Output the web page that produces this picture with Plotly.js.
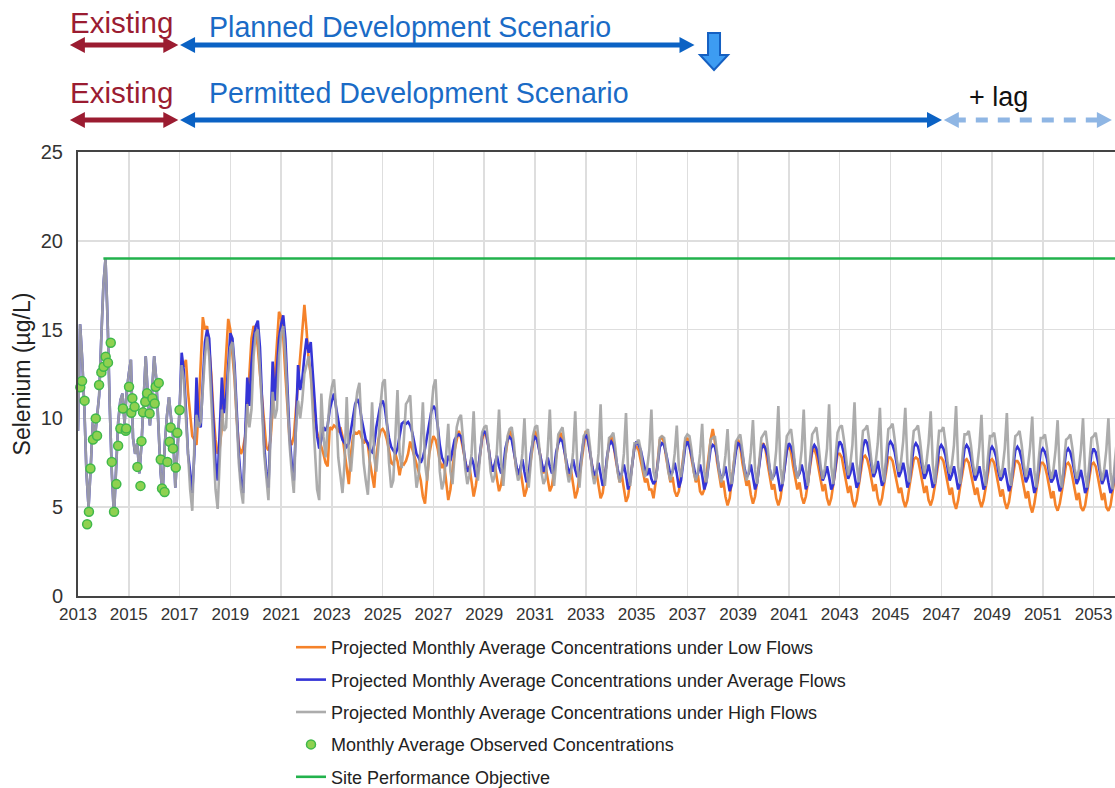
<!DOCTYPE html>
<html><head><meta charset="utf-8">
<script src="https://cdn.plot.ly/plotly-3.0.1.min.js"></script>
<style>html,body{margin:0;padding:0;background:#fff}#chart{width:1115px;height:788px}</style>
</head><body><div id="chart"></div>
<script>
// ---------------- DATA (monthly values, µg/L) ----------------
const historyStartYear = 2013;
// 2013-2016: simulated history, all flow cases coincide
const sharedHistory = [
 9.3,15.3,13.3,10.6,6.9,5.0,7.2,9.8,8.9,10.0,11.3,14.5,
 17.5,19.0,15.5,10.7,6.9,4.5,6.9,9.8,11.0,11.4,9.7,11.5,
 12.5,13.3,8.9,8.0,8.6,6.9,8.5,10.7,13.5,11.3,9.6,11.5,
 13.5,12.2,9.6,7.0,5.7,8.5,10.1,11.2,10.0,8.9,6.1,8.0
];
const projectionStartYear = 2017;
const highFlows = [
 10.5,13.0,12.2,10.0,8.0,6.0,4.8,8.5,10.2,9.5,9.8,12.0,
 13.5,14.6,13.5,11.0,8.0,6.0,4.9,8.0,10.5,9.3,9.5,12.5,
 14.0,14.3,12.5,10.0,7.5,6.0,5.2,8.5,10.8,9.5,10.5,13.5,
 14.8,15.0,13.0,10.5,8.0,6.5,5.4,9.0,11.5,10.0,10.5,13.5,
 14.8,15.2,13.5,11.0,8.5,7.0,5.8,9.5,11.0,10.0,11.0,12.5,
 13.0,13.5,12.5,10.5,8.0,6.0,5.4,11.4,9.0,7.8,9.5,11.0,
 11.8,12.2,10.5,7.8,6.8,5.8,7.5,11.2,8.0,7.0,8.5,10.5,
 11.5,12.0,9.5,7.5,6.5,5.7,8.0,10.9,7.8,7.0,8.5,10.8,
 12.0,12.2,9.8,7.5,6.1,6.5,9.0,11.6,8.0,7.2,8.8,10.8,
 11.0,11.3,9.0,7.5,6.1,6.8,8.5,10.9,7.5,6.5,8.0,10.5,
 11.8,12.2,9.5,7.0,6.0,6.5,8.0,9.7,7.0,6.3,8.0,9.5,
 10.0,10.2,8.8,7.2,6.3,6.8,8.0,10.4,7.5,6.5,7.8,9.2,
 9.5,9.6,8.5,7.0,6.4,6.8,8.2,10.5,7.5,6.2,7.8,9.0,
 9.4,9.5,8.6,7.2,6.5,6.8,8.0,10.0,7.2,6.1,7.5,9.0,
 9.5,9.6,8.4,7.0,6.3,6.6,8.2,10.5,7.4,6.2,7.6,9.1,
 9.3,9.5,8.5,7.1,6.4,6.9,8.1,10.4,7.3,6.1,7.7,9.0,
 9.2,9.4,8.4,7.0,6.3,6.8,8.0,10.8,7.2,6.2,7.6,8.9,
 9.0,9.2,8.3,7.0,6.4,6.9,8.0,10.3,7.0,6.2,7.5,8.6,
 8.6,8.8,8.2,7.2,6.7,7.2,8.2,10.5,7.0,6.5,7.4,8.9,
 9.0,8.9,8.0,7.0,6.5,7.0,8.0,9.6,7.2,6.7,7.6,8.9,
 9.1,9.0,8.2,7.0,6.5,7.0,8.0,9.7,7.0,6.4,7.5,8.8,
 8.9,9.0,8.1,7.0,6.4,6.9,7.9,9.4,7.0,6.3,7.5,8.7,
 8.9,9.1,8.2,7.1,6.5,7.0,8.1,9.9,7.1,6.3,7.6,8.9,
 9.1,9.3,8.3,7.1,6.5,7.0,8.2,10.7,7.2,6.3,7.7,9.0,
 9.2,9.4,8.4,7.2,6.6,7.1,8.2,10.5,7.3,6.2,7.7,9.1,
 9.3,9.5,8.5,7.3,6.6,7.2,8.3,10.8,7.3,6.3,7.8,9.2,
 9.5,9.6,8.8,7.6,6.8,7.4,8.5,10.9,7.5,6.4,7.9,9.3,
 9.4,9.6,8.7,7.6,6.9,7.5,8.6,10.6,7.4,6.4,7.9,9.4,
 9.5,9.7,8.8,7.7,7.0,7.6,8.7,10.6,7.5,6.4,8.0,9.3,
 9.4,9.6,8.7,7.6,6.9,7.5,8.6,10.4,7.4,6.3,7.9,9.3,
 9.3,9.5,8.6,7.5,6.9,7.4,8.5,10.7,7.3,6.3,7.8,9.1,
 9.1,9.3,8.5,7.4,6.8,7.3,8.4,10.2,7.2,6.2,7.7,9.0,
 9.0,9.2,8.4,7.3,6.7,7.2,8.3,10.3,7.1,6.2,7.6,9.0,
 9.1,9.3,8.5,7.4,6.7,7.3,8.4,10.1,7.0,6.1,7.6,8.9,
 8.9,9.1,8.3,7.2,6.6,7.1,8.2,9.9,6.9,6.1,7.5,8.8,
 8.9,9.1,8.3,7.2,6.6,7.1,8.2,10.0,6.9,6.1,7.5,8.9,
 9.0,9.2,8.4,7.2,6.5,7.1,8.2,10.0,6.9,6.0,7.5,8.8
];
const averageFlows = [
 10.5,13.7,12.7,10.5,8.0,7.0,5.8,8.0,12.3,9.7,9.5,12.0,
 14.3,15.0,14.5,12.0,9.5,7.5,6.5,9.0,12.3,10.3,11.2,13.0,
 14.8,14.5,13.0,10.5,8.0,6.5,5.8,9.0,12.3,10.7,13.1,14.5,
 15.2,15.5,14.0,11.0,8.5,7.0,6.1,9.5,13.2,11.0,12.5,14.5,
 15.3,15.8,14.5,12.0,9.0,7.5,6.5,9.5,13.0,11.6,12.2,13.5,
 14.5,13.7,14.3,12.5,10.5,9.0,8.3,8.8,9.5,9.3,9.6,10.5,
 11.0,11.4,10.6,9.8,9.2,8.8,8.6,8.4,8.6,9.4,10.2,10.8,
 11.1,10.8,10.0,9.3,8.8,8.6,8.2,8.1,8.5,9.5,10.2,10.8,
 11.0,10.6,9.7,8.9,8.4,8.2,8.0,8.3,8.9,9.7,9.8,9.7,
 9.8,9.6,9.2,8.5,8.0,7.8,7.5,7.8,8.3,9.0,9.8,10.4,
 10.7,10.5,9.6,8.5,7.8,7.5,7.3,7.9,7.6,8.2,8.8,9.0,
 9.1,9.0,8.5,7.6,7.0,7.2,7.8,7.4,6.7,7.0,8.2,9.0,
 9.3,9.1,8.4,7.5,7.0,7.4,7.9,7.3,6.9,7.2,8.3,8.8,
 8.95,8.8,8.2,7.4,6.8,7.2,7.7,7.0,6.4,6.8,8.0,8.7,
 8.95,8.8,8.2,7.5,7.0,7.3,7.8,7.3,6.9,7.1,8.1,8.6,
 8.85,8.7,8.1,7.3,6.9,7.2,7.7,7.1,6.7,7.0,8.0,8.8,
 9.1,8.8,8.1,7.3,6.8,7.0,7.5,6.9,6.2,6.6,7.8,8.5,
 8.7,8.5,8.0,7.2,6.6,6.9,7.4,6.8,6.0,6.5,7.6,8.4,
 8.7,8.5,8.2,7.65,7.1,6.8,7.2,6.6,6.3,6.5,7.5,8.4,
 8.6,8.5,8.0,7.3,6.8,7.0,7.5,6.9,6.1,6.5,7.6,8.4,
 8.7,8.4,7.9,7.2,6.7,6.9,7.4,6.8,6.0,6.4,7.5,8.3,
 8.5,8.4,7.9,7.1,6.6,6.8,7.3,6.7,5.9,6.3,7.4,8.2,
 8.6,8.5,8.0,7.2,6.7,6.9,7.4,6.8,6.0,6.4,7.5,8.3,
 8.5,8.3,7.9,7.1,6.6,6.8,7.3,6.6,5.9,6.3,7.4,8.2,
 8.6,8.4,8.0,7.2,6.7,6.9,7.4,6.9,6.0,6.4,7.5,8.3,
 8.5,8.3,7.8,7.1,6.5,6.8,7.3,6.7,6.0,6.3,7.4,8.3,
 8.7,8.5,8.0,7.2,6.6,6.9,7.5,6.8,6.1,6.4,7.6,8.4,
 8.8,8.6,8.0,7.3,6.7,7.0,7.6,6.9,6.2,6.5,7.7,8.5,
 8.7,8.5,8.1,7.3,6.7,7.0,7.5,6.9,6.1,6.5,7.6,8.4,
 8.6,8.4,7.9,7.2,6.6,6.9,7.4,6.8,6.1,6.4,7.5,8.3,
 8.5,8.3,7.9,7.1,6.5,6.8,7.3,6.7,6.0,6.4,7.5,8.3,
 8.5,8.3,7.8,7.1,6.5,6.8,7.3,6.7,6.0,6.3,7.4,8.2,
 8.4,8.2,7.8,7.0,6.5,6.7,7.2,6.6,5.9,6.3,7.4,8.2,
 8.4,8.2,7.7,7.0,6.4,6.7,7.2,6.5,5.8,6.2,7.3,8.1,
 8.3,8.1,7.7,6.9,6.4,6.6,7.1,6.5,5.9,6.2,7.3,8.1,
 8.3,8.1,7.6,6.9,6.3,6.6,7.1,6.5,5.8,6.1,7.2,8.0,
 8.3,8.1,7.6,6.9,6.3,6.6,7.1,6.4,5.8,6.1,7.2,8.0
];
const lowFlowsStartYear = 2017, lowFlowsStartMonth = 2; // March 2017
const lowFlows = [
 12.9,13.3,11.5,10.0,9.0,8.8,8.5,10.5,13.5,15.7,
 15.0,15.2,14.0,12.5,10.3,8.8,8.0,8.4,9.5,11.5,14.0,15.6,
 15.0,13.5,12.2,10.0,8.5,8.0,8.3,9.0,10.5,12.5,14.5,15.2,
 15.0,14.0,12.5,11.2,9.5,8.4,8.2,8.8,10.5,12.5,14.5,16.0,
 15.7,14.6,12.5,10.5,8.8,8.5,9.0,10.5,12.0,13.3,15.0,16.4,
 15.0,13.3,12.5,11.0,10.0,9.2,8.8,8.5,8.0,7.5,7.3,9.5,
 9.4,9.6,9.5,9.3,9.5,9.0,8.0,7.0,6.3,8.0,9.0,9.2,
 9.15,9.3,9.0,8.6,8.8,8.5,7.5,6.8,6.1,7.8,8.8,9.3,
 9.4,9.2,8.8,8.2,7.5,7.4,8.0,7.6,6.8,7.5,7.4,7.6,
 8.0,8.7,8.3,7.8,7.4,7.0,6.5,5.6,5.2,6.5,8.0,8.6,
 9.0,8.8,8.3,7.6,7.2,7.5,6.5,5.4,6.0,7.0,8.2,8.8,
 9.3,8.9,8.3,7.5,7.0,7.3,6.4,5.6,6.2,7.0,8.0,8.8,
 9.2,9.0,8.4,7.5,7.0,7.4,6.6,5.9,6.3,7.1,8.0,8.7,
 9.3,9.0,8.2,7.3,6.8,7.2,6.4,5.6,6.0,6.8,7.8,8.6,
 9.3,8.9,8.2,7.4,6.9,7.3,6.5,5.9,6.2,7.0,7.9,8.7,
 9.2,8.9,8.1,7.2,6.7,7.1,6.3,5.5,5.9,6.8,7.8,8.6,
 9.3,8.8,8.0,7.2,6.6,7.0,6.2,5.5,5.8,6.7,7.7,8.6,
 9.0,8.6,7.8,7.0,6.4,6.8,6.0,5.3,5.6,6.5,7.6,8.4,
 8.4,8.2,7.6,7.0,6.4,6.6,6.0,6.0,5.5,6.4,7.6,8.8,
 9.0,8.6,7.8,7.0,6.4,6.7,5.9,5.6,5.9,6.8,7.8,8.7,
 8.9,8.5,7.7,7.0,6.4,6.8,5.9,5.7,6.0,6.8,7.8,8.8,
 9.4,8.7,7.6,6.8,6.1,6.5,5.6,5.1,5.5,6.5,7.5,8.5,
 8.8,8.4,7.5,6.8,6.2,6.5,5.7,5.2,5.6,6.5,7.5,8.4,
 8.6,8.2,7.4,6.6,6.0,6.3,5.5,5.1,5.5,6.4,7.3,8.2,
 8.5,8.1,7.3,6.6,6.0,6.4,5.6,5.2,5.6,6.4,7.3,8.1,
 8.3,7.9,7.2,6.5,5.9,6.3,5.5,5.1,5.5,6.3,7.2,8.0,
 8.0,7.8,7.1,6.4,5.8,6.2,5.4,5.0,5.4,6.2,7.1,7.8,
 7.9,7.7,7.2,6.5,5.9,6.3,5.5,5.1,5.5,6.3,7.1,7.8,
 7.8,7.6,7.0,6.4,5.8,6.1,5.4,5.0,5.4,6.2,7.0,7.7,
 7.8,7.7,7.1,6.4,5.8,6.2,5.4,5.1,5.5,6.2,7.0,7.8,
 7.8,7.6,7.0,6.3,5.7,6.1,5.3,4.9,5.4,6.2,7.0,7.6,
 7.7,7.5,6.9,6.3,5.7,6.1,5.4,5.0,5.4,6.1,6.9,7.6,
 7.7,7.5,6.9,6.2,5.6,6.0,5.3,4.9,5.3,6.1,6.9,7.6,
 7.6,7.4,6.8,6.1,5.5,5.9,5.1,4.7,5.2,6.0,6.8,7.5,
 7.5,7.3,6.8,6.1,5.5,5.9,5.1,4.8,5.2,5.9,6.8,7.4,
 7.5,7.3,6.7,6.0,5.4,5.8,5.0,4.8,5.1,5.9,6.7,7.4,
 7.5,7.3,6.7,6.0,5.4,5.8,5.0,4.8,5.1,5.9,6.7,7.4
];
// observed monthly averages (decimal year, value)
const obsYears = [2012.98,2013.09,2013.16,2013.26,2013.36,2013.43,2013.49,2013.59,2013.70,2013.75,
 2013.83,2013.92,2014.01,2014.09,2014.18,2014.29,2014.33,2014.42,2014.51,2014.58,2014.67,2014.77,
 2014.88,2014.90,2015.01,2015.10,2015.14,2015.23,2015.34,2015.46,2015.50,2015.56,2015.65,2015.72,
 2015.82,2015.93,2016.02,2016.06,2016.18,2016.26,2016.31,2016.41,2016.52,2016.61,2016.65,2016.74,
 2016.85,2016.91,2017.00];
const obsValues = [11.07,11.75,12.1,11.0,4.04,4.74,7.18,8.81,10.0,9.02,
 11.88,12.59,12.91,13.47,13.14,14.26,7.55,4.74,6.3,8.46,9.43,10.56,
 9.3,9.43,11.78,10.32,11.13,10.65,7.27,6.2,8.72,10.34,10.94,11.41,
 10.28,11.13,10.84,11.78,12.0,7.69,6.05,5.86,7.55,8.68,9.49,8.31,
 7.23,9.19,10.47];
const spoValue = 19, spoStartYear = 2014, spoEndYear = 2054;
const seriesNames = [
 'Projected Monthly Average Concentrations under Low Flows',
 'Projected Monthly Average Concentrations under Average Flows',
 'Projected Monthly Average Concentrations under High Flows',
 'Monthly Average Observed Concentrations',
 'Site Performance Objective'
];
// ---------------------------------------------------------------

function monthlyX(startYear, startMonth, n) {
  const xs = [];
  for (let i = 0; i < n; i++) xs.push(startYear + (startMonth + i) / 12);
  return xs;
}
const greyVals = sharedHistory.concat(highFlows);
const blueVals = sharedHistory.concat(averageFlows);
const greyX = monthlyX(historyStartYear, 0, greyVals.length);
const blueX = monthlyX(historyStartYear, 0, blueVals.length);
const orangeX = monthlyX(lowFlowsStartYear, lowFlowsStartMonth, lowFlows.length);

const ORANGE = '#f5822a', BLUE = '#3434d6', GREY = 'rgba(163,163,163,0.9)';
const traces = [
  {x: orangeX, y: lowFlows, name: seriesNames[0], mode: 'lines', line: {color: ORANGE, width: 2.6}, legendgroup: 'a'},
  {x: blueX, y: blueVals, name: seriesNames[1], mode: 'lines', line: {color: BLUE, width: 2.6}, legendgroup: 'b'},
  {x: greyX, y: greyVals, name: seriesNames[2], mode: 'lines', line: {color: GREY, width: 2.6}, legendgroup: 'c'},
  {x: obsYears, y: obsValues, name: seriesNames[3], mode: 'markers', cliponaxis: false,
   marker: {color: '#8fd150', size: 9, line: {color: '#3fb84a', width: 1.5}}, legendgroup: 'd'},
  {x: [spoStartYear, spoEndYear], y: [spoValue, spoValue], name: seriesNames[4], mode: 'lines',
   line: {color: '#22b24c', width: 2.6}, legendgroup: 'e'}
];

// geometry of plot area (pixels)
const L = 78, T = 152, PW = 1037, PH = 444;
const xMin = 2013, xMax = 2013 + PW / 25.39;
const yrToPaper = yr => (yr - xMin) / (xMax - xMin);
const pxToPaperY = p => (T + PH - p) / PH;
const pxW = p => p / PW, pxH = p => p / PH;

const shapes = [];
function head(tipYr, yPix, dir, color) {
  const tx = yrToPaper(tipYr), ty = pxToPaperY(yPix);
  const bx = tx - dir * pxW(15), h = pxH(8);
  shapes.push({type: 'path', xref: 'paper', yref: 'paper', fillcolor: color, line: {width: 0},
    path: `M ${tx} ${ty} L ${bx} ${ty + h} L ${bx} ${ty - h} Z`});
}
function arrow(yr0, yr1, yPix, color, dash) {
  const x0 = yrToPaper(yr0) + pxW(10), x1 = yrToPaper(yr1) - pxW(10);
  shapes.push({type: 'line', xref: 'paper', yref: 'paper', x0: x0, x1: x1,
    y0: pxToPaperY(yPix), y1: pxToPaperY(yPix), line: {color: color, width: 5, dash: dash || 'solid'}});
  head(yr0, yPix, -1, color);
  head(yr1, yPix, 1, color);
}
const RED = '#9b1c31', DBLUE = '#0b62c4', LBLUE = '#8fb6e4';
arrow(2012.68, 2016.95, 45, RED);
arrow(2017.02, 2037.28, 45, DBLUE);
arrow(2012.68, 2016.95, 120, RED);
arrow(2017.02, 2047.03, 120, DBLUE);
arrow(2047.1, 2053.72, 120, LBLUE, '12px,10px');
// downward block arrow
(function () {
  const cx = yrToPaper(2038.05);
  const sw = pxW(6), hw = pxW(14);
  const yTop = pxToPaperY(33), yNeck = pxToPaperY(55), yTip = pxToPaperY(70);
  shapes.push({type: 'path', xref: 'paper', yref: 'paper', fillcolor: '#3d9cf2', line: {color: '#1560c2', width: 2},
    path: `M ${cx - sw} ${yTop} L ${cx + sw} ${yTop} L ${cx + sw} ${yNeck} L ${cx + hw} ${yNeck} L ${cx} ${yTip} L ${cx - hw} ${yNeck} L ${cx - sw} ${yNeck} Z`});
})();

const FONT = 'Liberation Sans, Arial, sans-serif';
const ann = (text, yr, yPix, color, size) => ({text: text, xref: 'paper', yref: 'paper',
  x: yrToPaper(yr), y: pxToPaperY(yPix), xanchor: 'left', yanchor: 'middle', showarrow: false,
  font: {family: FONT, size: size, color: color}});
const annotations = [
  ann('Existing', 2012.6, 22, RED, 29.5),
  ann('Planned Development Scenario', 2018.08, 27, '#1a6bc6', 28.6),
  ann('Existing', 2012.6, 93, RED, 29.5),
  ann('Permitted Development Scenario', 2018.08, 93, '#1a6bc6', 28.6),
  ann('+ lag', 2048.0, 97, '#111', 27)
];

const layout = {
  width: 1115, height: 788,
  margin: {l: L, r: 0, t: T, b: 788 - T - PH, autoexpand: false},
  paper_bgcolor: '#fff', plot_bgcolor: '#fff',
  font: {family: FONT, color: '#333'},
  showlegend: true,
  legend: {x: (291 - L) / PW, y: pxToPaperY(629), xanchor: 'left', yanchor: 'top',
    font: {family: FONT, size: 18, color: '#222'}, traceorder: 'grouped', tracegroupgap: 6,
    bgcolor: 'rgba(0,0,0,0)'},
  xaxis: {range: [xMin, xMax], tick0: 2013, dtick: 2, tickformat: 'd', showgrid: true,
    gridcolor: '#dedede', gridwidth: 1.5, zeroline: false, showline: true, linecolor: '#444',
    linewidth: 2, mirror: true, ticks: '', ticklabelstandoff: 2, automargin: false,
    tickfont: {family: FONT, size: 17, color: '#333'}},
  yaxis: {range: [0, 25], dtick: 5, showgrid: true, gridcolor: '#dedede', gridwidth: 1.5,
    zeroline: false, showline: true, linecolor: '#444', linewidth: 2, mirror: true, ticks: '',
    ticklabelstandoff: 9, automargin: false, tickfont: {family: FONT, size: 20, color: '#333'},
    title: {text: 'Selenium (µg/L)', standoff: 4, font: {family: FONT, size: 23, color: '#222'}}},
  shapes: shapes,
  annotations: annotations
};
Plotly.newPlot('chart', traces, layout, {staticPlot: true, displayModeBar: false});
</script></body></html>
